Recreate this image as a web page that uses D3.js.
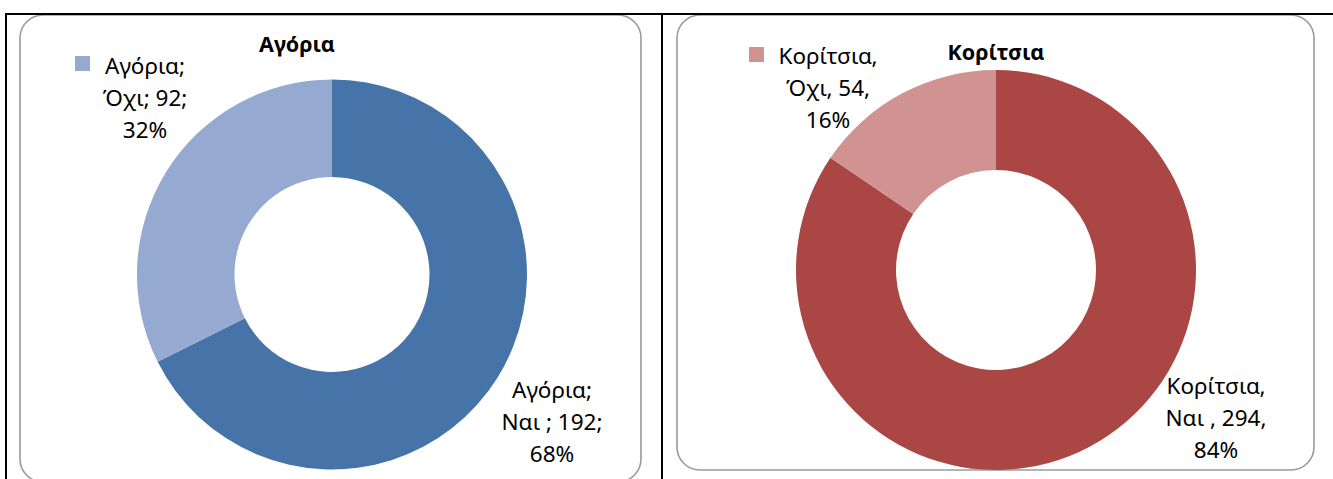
<!DOCTYPE html>
<html>
<head>
<meta charset="utf-8">
<script src="https://d3js.org/d3.v7.min.js"></script>
<style>
  html, body { margin: 0; padding: 0; background: #fff; }
  svg { display: block; }
  text { font-family: "Noto Sans", "Open Sans", sans-serif; fill: #000; }
</style>
</head>
<body>
<div id="chart"></div>
<script>
// ---- data ----
const boysTitle = "Αγόρια";
const boysCategories = ["Ναι ", "Όχι"];
const boysValues = [192, 92];
const boysColors = ["#4674A9", "#95A9D1"];
const boysLabelLines = [["Αγόρια;", "Ναι ; 192;", "68%"], ["Αγόρια;", "Όχι; 92;", "32%"]];

const girlsTitle = "Κορίτσια";
const girlsCategories = ["Ναι ", "Όχι"];
const girlsValues = [294, 54];
const girlsColors = ["#AA4744", "#D19391"];
const girlsLabelLines = [["Κορίτσια,", "Ναι , 294,", "84%"], ["Κορίτσια,", "Όχι, 54,", "16%"]];

const W = 1333, H = 479;
const svg = d3.select("#chart").append("svg").attr("width", W).attr("height", H);

const panels = [
  { title: boysTitle, cats: boysCategories, values: boysValues, colors: boysColors, lines: boysLabelLines,
    box: [20, 15, 621, 467], cx: 332, cy: 274.5, r: 195, titleX: 297, titleY: 52,
    legendSq: [75, 56], legendX: 145, legendY: 74, labelX: 552, labelY: 398 },
  { title: girlsTitle, cats: girlsCategories, values: girlsValues, colors: girlsColors, lines: girlsLabelLines,
    box: [677, 15, 637, 455], cx: 996, cy: 270, r: 200, titleX: 996, titleY: 60,
    legendSq: [749, 47], legendX: 828, legendY: 64, labelX: 1216, labelY: 394 }
];

panels.forEach(p => {
  const g = svg.append("g");
  g.append("rect")
    .attr("x", p.box[0]).attr("y", p.box[1]).attr("width", p.box[2]).attr("height", p.box[3])
    .attr("rx", 23).attr("ry", 23)
    .attr("fill", "#fff").attr("stroke", "#9a9a9a").attr("stroke-width", 1.6);

  const pie = d3.pie().sort(null).value(d => d)(p.values);
  const arc = d3.arc().innerRadius(p.r * 0.5).outerRadius(p.r);
  g.append("g").attr("transform", `translate(${p.cx},${p.cy})`)
    .selectAll("path").data(pie).join("path")
    .attr("d", arc).attr("fill", (d, i) => p.colors[i]);

  g.append("text").attr("x", p.titleX).attr("y", p.titleY)
    .attr("text-anchor", "middle").attr("font-weight", "bold").attr("font-size", 21.5)
    .text(p.title);

  // legend (second category)
  g.append("rect").attr("x", p.legendSq[0]).attr("y", p.legendSq[1])
    .attr("width", 15).attr("height", 15).attr("fill", p.colors[1]);
  const lt = g.append("text").attr("text-anchor", "middle").attr("font-size", 22.5);
  p.lines[1].forEach((s, i) => lt.append("tspan").attr("x", p.legendX).attr("y", p.legendY + i * 32).text(s));

  // data label (first category)
  const dt = g.append("text").attr("text-anchor", "middle").attr("font-size", 22.5);
  p.lines[0].forEach((s, i) => dt.append("tspan").attr("x", p.labelX).attr("y", p.labelY + i * 32).text(s));
});

// table borders (on top)
const tbl = svg.append("g").attr("stroke", "#000").attr("stroke-width", 2);
tbl.append("line").attr("x1", 5).attr("x2", W).attr("y1", 14).attr("y2", 14);
tbl.append("line").attr("x1", 6).attr("x2", 6).attr("y1", 13).attr("y2", H);
tbl.append("line").attr("x1", 662).attr("x2", 662).attr("y1", 13).attr("y2", H);
</script>
</body>
</html>
